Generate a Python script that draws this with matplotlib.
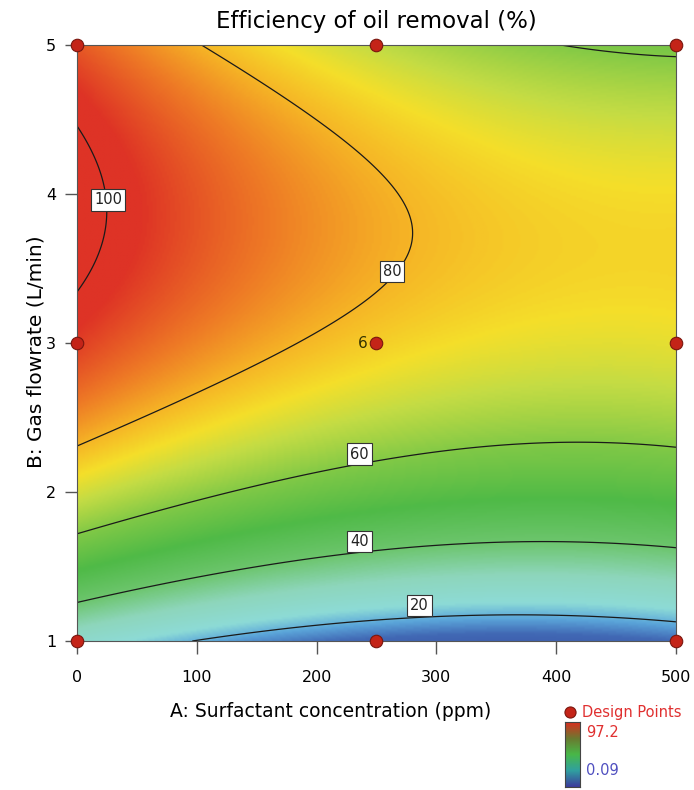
import matplotlib
matplotlib.use("Agg")
import matplotlib.pyplot as plt
from matplotlib.colors import LinearSegmentedColormap
import numpy as np

plt.rcParams['font.family'] = ['DejaVu Sans']

# quadratic model in coded units (x = A/250 - 1, y = (B - 3)/2)
b0 = 76.4
b_A = -11.7
b_B = 27.2
b_AB = -5.2
b_AA = 7.4
b_BB = -36.0

# design points
design_A = [0, 0, 0, 250, 250, 250, 500, 500, 500]
design_B = [1, 3, 5, 1, 3, 5, 1, 3, 5]
center_reps = "6"

levels = [20, 40, 60, 80, 100]
label_A = [286, 236, 236, 263, 26]
label_B = [1.24, 1.67, 2.255, 3.48, 3.96]
resp_min, resp_max = 0.09, 97.2

x_ticks = [0, 100, 200, 300, 400, 500]
y_ticks = [1, 2, 3, 4, 5]

# colour map similar to Design-Expert
cmap = LinearSegmentedColormap.from_list("de", [
    (0.0, "#34449c"), (0.14, "#4168b4"), (0.19, "#5ba6da"), (0.24, "#8ddbd6"),
    (0.32, "#8ed6bc"), (0.41, "#6cc56c"), (0.51, "#4fba47"), (0.61, "#7ec846"),
    (0.70, "#c4dc44"), (0.76, "#f4df2a"), (0.82, "#f6b826"), (0.90, "#ee7a25"),
    (1.0, "#de3326")])
leg_cmap = LinearSegmentedColormap.from_list("leg", ["#3c3c9c", "#30a0a0", "#48b848", "#6a7a30", "#d83020"])

A = np.linspace(0, 500, 301)
B = np.linspace(1, 5, 301)
AA, BB = np.meshgrid(A, B)
x = AA / 250 - 1
y = (BB - 3) / 2
Z = b0 + b_A * x + b_B * y + b_AB * x * y + b_AA * x ** 2 + b_BB * y ** 2

fig = plt.figure(figsize=(6.94, 7.90), dpi=100)
ax = fig.add_axes([0.111, 0.1886, 0.863, 0.7544])

ax.imshow(Z, extent=[0, 500, 1, 5], origin='lower', aspect='auto', cmap=cmap,
          vmin=resp_min, vmax=resp_max, interpolation='bilinear')
ax.contour(AA, BB, Z, levels=levels, colors='#1a1a1a', linewidths=0.9)
for lv, la, lb in zip(levels, label_A, label_B):
    ax.text(la, lb, str(lv), fontsize=10.5, color='#222222', ha='center', va='center',
            bbox=dict(facecolor='white', edgecolor='#333333', pad=2.2, linewidth=0.8))

ax.plot(design_A, design_B, 'o', ms=9, mfc='#c42418', mec='#7a160e', mew=0.8,
        clip_on=False, zorder=5)
ax.text(243, 3.0, center_reps, fontsize=11, color='#333300', ha='right', va='center')

ax.set_xlim(0, 500)
ax.set_ylim(1, 5)
ax.set_xticks(x_ticks)
ax.set_yticks(y_ticks)
ax.tick_params(direction='out', length=9, width=1, color='#555555', labelsize=11.5)
ax.tick_params(axis='x', pad=12)
ax.tick_params(axis='y', pad=6)
for s in ax.spines.values():
    s.set_color('#555555')
ax.set_xlabel("A: Surfactant concentration (ppm)", fontsize=13.5, va='center')
ax.xaxis.set_label_coords(0.424, -0.119)
ax.set_ylabel("B: Gas flowrate (L/min)", fontsize=14.5, va='center')
ax.yaxis.set_label_coords(-0.068, 0.485)
ax.set_title("Efficiency of oil removal (%)", fontsize=16.5, pad=12)

# legend
ax.plot([0.821], [0.0987], 'o', ms=8, mfc='#c42418', mec='#7a160e', mew=0.8,
        transform=fig.transFigure, clip_on=False)
fig.text(0.838, 0.0987, "Design Points", fontsize=10.5, color='#e03030', ha='left', va='center')
cax = fig.add_axes([0.814, 0.004, 0.022, 0.082])
cax.imshow(np.linspace(0, 1, 100).reshape(-1, 1), cmap=leg_cmap, origin='lower', aspect='auto')
cax.set_xticks([])
cax.set_yticks([])
for s in cax.spines.values():
    s.set_color('#444444')
fig.text(0.845, 0.073, "%.1f" % resp_max, fontsize=10.5, color='#e03030', ha='left', va='center')
fig.text(0.845, 0.025, "%.2f" % resp_min, fontsize=10.5, color='#5050c0', ha='left', va='center')

fig.savefig("out.png", dpi=100)
